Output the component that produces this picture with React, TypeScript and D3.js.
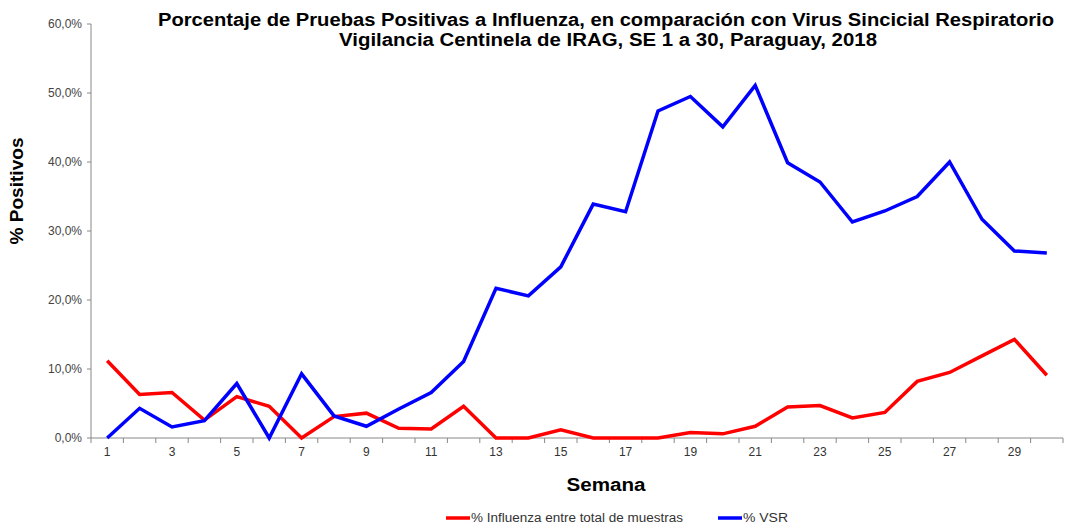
import React from "react";
import * as d3 from "d3";

const weeks = d3.range(1, 31);
const influenza = [11.2, 6.3, 6.6, 2.6, 6.0, 4.6, 0, 3.1, 3.6, 1.4, 1.3, 4.6, 0, 0, 1.2, 0, 0, 0, 0.8, 0.6, 1.7, 4.5, 4.7, 2.9, 3.7, 8.2, 9.5, 11.9, 14.3, 9.1];
const vsr = [0, 4.3, 1.6, 2.5, 7.9, 0, 9.3, 3.2, 1.7, 4.2, 6.6, 11.1, 21.7, 20.6, 24.8, 33.9, 32.8, 47.4, 49.5, 45.1, 51.1, 39.9, 37.1, 31.3, 32.9, 35.0, 40.0, 31.7, 27.1, 26.8];
const yTicks = [0, 10, 20, 30, 40, 50, 60];
const xLabels = weeks.filter((w) => w % 2 === 1);

const titleLines = [
  "Porcentaje de Pruebas Positivas a Influenza, en comparación con Virus Sincicial Respiratorio",
  "Vigilancia Centinela de IRAG, SE 1 a 30, Paraguay, 2018",
];
// the original is rendered a bit wider than regular Arial, so stretch text to width
const titleWidths = [896, 538];

const series = [
  { name: "% Influenza entre total de muestras", values: influenza, color: "#ff0000", width: 212 },
  { name: "% VSR", values: vsr, color: "#0000ff", width: 45 },
];

const W = 1065;
const H = 524;
const left = 91;
const right = 1063;
const top = 24;
const bottom = 438;
const font = "Liberation Sans, Arial, sans-serif";

export default function App() {
  const x = d3.scalePoint<number>().domain(weeks).range([left, right]).padding(0.5);
  const y = d3.scaleLinear().domain([0, 60]).range([bottom, top]);
  const step = x.step();
  const fmt = (v: number) => v.toFixed(1).replace(".", ",") + "%";

  const line = (vals: number[]) =>
    d3.line<number>()
      .x((_, i) => x(weeks[i]) as number)
      .y((d) => y(d))(vals) || "";

  const boundaries = weeks.map((w) => (x(w) as number) - step / 2).concat([right]);
  const legendX = [446, 718];

  return (
    <svg width={W} height={H} style={{ position: "absolute", left: 0, top: 0, background: "#fff" }} fontFamily={font}>
      {titleLines.map((t, i) => (
        <text
          key={i}
          x={606 + i * 2}
          y={26 + i * 20}
          textAnchor="middle"
          fontSize={17.5}
          fontWeight="bold"
          fill="#000"
          textLength={titleWidths[i]}
          lengthAdjust="spacingAndGlyphs"
        >
          {t}
        </text>
      ))}

      {/* y axis */}
      <line x1={left} x2={left} y1={top} y2={bottom} stroke="#888" strokeWidth={1} />
      {yTicks.map((t) => (
        <g key={t}>
          <line x1={left - 4} x2={left} y1={y(t)} y2={y(t)} stroke="#888" />
          <text x={left - 9} y={y(t) + 4} textAnchor="end" fontSize={12} fill="#444">
            {fmt(t)}
          </text>
        </g>
      ))}
      <text
        transform="translate(23,191) rotate(-90)"
        textAnchor="middle"
        fontSize={18}
        fontWeight="bold"
        fill="#000"
        textLength={107}
        lengthAdjust="spacingAndGlyphs"
      >
        % Positivos
      </text>

      {/* x axis */}
      <line x1={left} x2={right} y1={bottom} y2={bottom} stroke="#888" strokeWidth={1} />
      {boundaries.map((b, i) => (
        <line key={i} x1={b} x2={b} y1={bottom} y2={bottom + 5} stroke="#888" />
      ))}
      {xLabels.map((w) => (
        <text key={w} x={x(w)} y={bottom + 18} textAnchor="middle" fontSize={12} fill="#333">
          {w}
        </text>
      ))}
      <text
        x={606}
        y={491}
        textAnchor="middle"
        fontSize={18}
        fontWeight="bold"
        fill="#000"
        textLength={79}
        lengthAdjust="spacingAndGlyphs"
      >
        Semana
      </text>

      {/* lines */}
      {series.map((s) => (
        <path key={s.name} d={line(s.values)} fill="none" stroke={s.color} strokeWidth={3.5} strokeLinejoin="miter" />
      ))}

      {/* legend */}
      {series.map((s, i) => (
        <g key={s.name}>
          <line x1={legendX[i]} x2={legendX[i] + 24} y1={518} y2={518} stroke={s.color} strokeWidth={3.5} />
          <text
            x={legendX[i] + 25}
            y={522}
            fontSize={12.5}
            fill="#333"
            textLength={s.width}
            lengthAdjust="spacingAndGlyphs"
          >
            {s.name}
          </text>
        </g>
      ))}
    </svg>
  );
}
